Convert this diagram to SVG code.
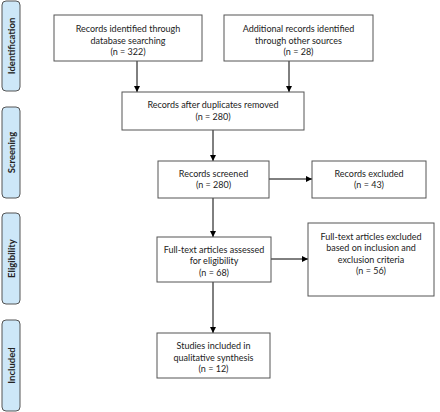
<svg xmlns="http://www.w3.org/2000/svg" width="440" height="412" viewBox="0 0 440 412">
<defs>
<marker id="ah" viewBox="0 0 8 8" refX="8" refY="4" markerWidth="6" markerHeight="6" orient="auto" markerUnits="userSpaceOnUse">
<path d="M0,0 L8,4 L0,8 z" fill="#000"/>
</marker>
<style>
.box{fill:#fff;stroke:#555;stroke-width:1}
.side{fill:#cde7f8;stroke:#555;stroke-width:1}
.t{font-family:Lato,"Open Sans","Liberation Sans",sans-serif;font-size:9px;fill:#222;text-anchor:middle}
.s{font-family:Lato,"Open Sans","Liberation Sans",sans-serif;font-size:9.5px;font-weight:bold;fill:#222;text-anchor:middle}
.c{stroke:#000;stroke-width:1;fill:none;marker-end:url(#ah)}
</style>
</defs>
<rect width="440" height="412" fill="#fff"/>
<g id="phase-identification"><rect class="side" x="2" y="1" width="18" height="90" rx="4"/><text class="s" transform="translate(14.5,46) rotate(-90)">Identification</text></g>
<g id="phase-screening"><rect class="side" x="2" y="107" width="18" height="91" rx="4"/><text class="s" transform="translate(14.5,152.5) rotate(-90)">Screening</text></g>
<g id="phase-eligibility"><rect class="side" x="2" y="213" width="18" height="91" rx="4"/><text class="s" transform="translate(14.5,258.5) rotate(-90)">Eligibility</text></g>
<g id="phase-included"><rect class="side" x="2" y="320" width="18" height="91" rx="4"/><text class="s" transform="translate(14.5,365.5) rotate(-90)">Included</text></g>
<g id="connectors">
<line class="c" x1="137" y1="61" x2="137" y2="92"/>
<line class="c" x1="289" y1="61" x2="289" y2="92"/>
<line class="c" x1="213" y1="130" x2="213" y2="161"/>
<line class="c" x1="269" y1="179" x2="312" y2="179"/>
<line class="c" x1="213" y1="198" x2="213" y2="237"/>
<line class="c" x1="271" y1="259" x2="308" y2="259"/>
<line class="c" x1="213" y1="282" x2="213" y2="333"/>
</g>
<g id="n1"><rect class="box" x="54" y="15" width="148" height="46"/><text class="t" x="128" y="32">Records identified through</text><text class="t" x="128" y="43.5">database searching</text><text class="t" x="128" y="55">(n = 322)</text></g>
<g id="n2"><rect class="box" x="224" y="15" width="149" height="46"/><text class="t" x="298.5" y="32">Additional records identified</text><text class="t" x="298.5" y="43.5">through other sources</text><text class="t" x="298.5" y="55">(n = 28)</text></g>
<g id="n3"><rect class="box" x="122" y="92" width="182" height="38"/><text class="t" x="213" y="108">Records after duplicates removed</text><text class="t" x="213" y="119.5">(n = 280)</text></g>
<g id="n4"><rect class="box" x="158" y="161" width="111" height="37"/><text class="t" x="213.5" y="176.5">Records screened</text><text class="t" x="213.5" y="188">(n = 280)</text></g>
<g id="n5"><rect class="box" x="312" y="161" width="114" height="37"/><text class="t" x="369" y="176.5">Records excluded</text><text class="t" x="369" y="188">(n = 43)</text></g>
<g id="n6"><rect class="box" x="157" y="237" width="114" height="45"/><text class="t" x="214" y="252.5">Full-text articles assessed</text><text class="t" x="214" y="264">for eligibility</text><text class="t" x="214" y="275.5">(n = 68)</text></g>
<g id="n7"><rect class="box" x="308" y="223" width="126" height="73"/><text class="t" x="371" y="239.5">Full-text articles excluded</text><text class="t" x="371" y="251">based on inclusion and</text><text class="t" x="371" y="262.5">exclusion criteria</text><text class="t" x="371" y="274">(n = 56)</text></g>
<g id="n8"><rect class="box" x="157" y="333" width="113" height="45"/><text class="t" x="213.5" y="349">Studies included in</text><text class="t" x="213.5" y="360.5">qualitative synthesis</text><text class="t" x="213.5" y="372">(n = 12)</text></g>
</svg>
